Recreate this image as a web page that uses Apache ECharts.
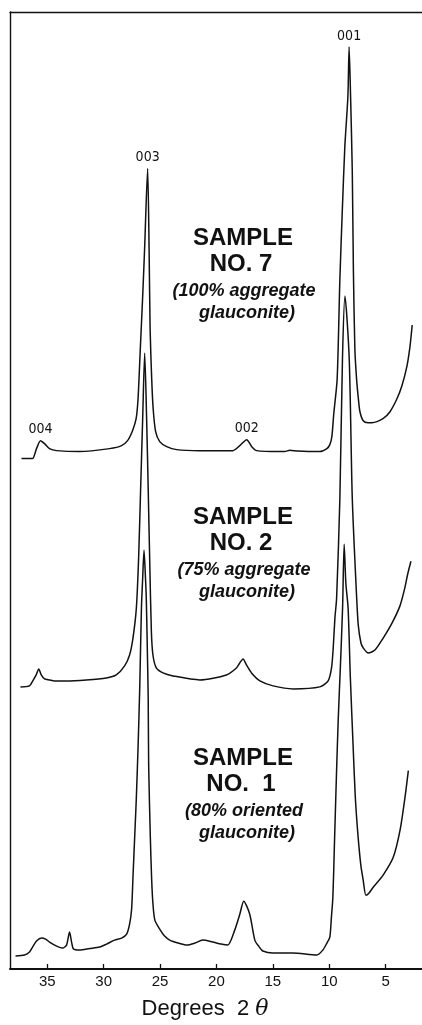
<!DOCTYPE html>
<html>
<head>
<meta charset="utf-8">
<title>Glauconite XRD</title>
<script src="https://cdn.jsdelivr.net/npm/echarts@6/dist/echarts.min.js"></script>
<style>
html,body{margin:0;padding:0;background:#fff;}
#xrd_chart{width:422px;height:1025px;}
</style>
</head>
<body>
<div id="xrd_chart"></div>
<script>
// [degrees 2theta, relative intensity] - traces are stacked
var sample7 = [
  [37.28,512],[36.57,512],[36.30,512],[35.95,522],[35.59,530],[35.24,527],[34.80,522],[34.17,520],
  [32.13,519],[29.47,522],[28.41,525],[27.88,530],[27.44,540],[27.12,552],[26.95,572],[26.75,622],
  [26.55,672],[26.37,722],[26.10,803],[25.97,722],[25.88,642],[25.74,592],[25.61,562],[25.39,539],
  [25.03,529],[24.41,524],[23.52,521],[21.48,520],[18.55,520],[17.93,525],[17.32,531],[16.87,524],
  [16.43,520],[14.38,519],[13.94,519],[13.50,520.5],[12.79,519.5],[10.83,519],[10.21,522],[9.95,526],
  [9.77,534],[9.60,557],[9.30,592],[9.06,692],[8.84,762],[8.62,825],[8.35,875],[8.24,925],
  [8.11,875],[7.96,800],[7.86,700],[7.73,622],[7.58,592],[7.42,572],[7.28,559],[6.99,550],
  [6.57,548],[6.22,548],[5.24,552],[4.62,559],[4.00,572],[3.56,585],[3.11,605],[2.85,624],[2.65,646]
];
var sample2 = [
  [37.37,283],[36.57,284],[36.28,289],[35.98,295],[35.75,301],[35.53,295],[35.24,291],[34.80,290],
  [34.35,289],[33.31,289],[31.54,290],[29.76,292],[28.88,295],[28.14,304],[27.70,315],[27.40,332],
  [27.10,362],[26.90,412],[26.72,482],[26.54,552],[26.36,618],[26.19,552],[26.05,482],[25.92,412],
  [25.77,339],[25.63,315],[25.33,302],[24.74,297],[23.85,294],[21.48,290],[19.12,295],[18.23,302],
  [17.94,307],[17.64,311],[17.34,305],[16.89,297],[16.15,289],[14.98,284],[13.20,281],[10.83,283],
  [10.10,289],[9.80,302],[9.65,322],[9.50,352],[9.35,372],[9.06,472],[8.83,612],[8.61,675],
  [8.23,612],[7.96,472],[7.57,372],[7.43,345],[7.19,327],[6.98,322],[6.54,317],[5.95,320],
  [5.22,332],[4.44,347],[3.74,364],[3.35,380],[3.05,396],[2.76,409]
];
var sample1 = [
  [37.81,13],[37.01,14],[36.57,17],[36.30,22],[35.95,28],[35.51,31],[35.15,30],[34.80,27],
  [34.17,23],[33.64,21],[33.29,24],[33.02,37],[32.84,27],[32.67,20],[32.13,19],[31.24,20.5],
  [30.36,22],[29.74,25],[29.03,29],[28.41,31],[27.96,35],[27.70,45],[27.52,60],[27.40,92],
  [27.25,132],[27.10,172],[26.95,222],[26.80,282],[26.65,362],[26.54,392],[26.42,420],[26.31,397],
  [26.22,372],[26.13,322],[26.05,272],[26.01,205],[25.86,132],[25.75,92],[25.64,67],[25.46,49],
  [25.03,40],[24.60,33],[24.14,29],[23.40,26],[22.64,24],[21.90,26],[21.22,29],[20.33,27],
  [19.60,25],[19.00,24],[18.38,39],[17.93,55],[17.58,68],[17.05,55],[16.60,29],[16.20,22],
  [15.89,18],[15.00,16],[13.23,16],[11.10,14],[10.57,19],[10.21,26],[9.95,32],[9.81,52],
  [9.68,72],[9.55,122],[9.37,192],[9.20,252],[9.02,302],[8.82,362],[8.68,426],[8.53,387],
  [8.33,362],[8.13,292],[7.88,222],[7.69,172],[7.44,132],[7.20,104],[6.99,89],[6.75,74],
  [6.49,76],[6.11,82],[5.24,94],[4.33,112],[3.73,139],[3.29,172],[2.99,199]
];
var tickValues = [35, 30, 25, 20, 15, 10, 5];
var peakNames = ['001', '002', '003', '004'];
var peakDegs = [8.24, 17.32, 26.10, 35.59];
var sampleNos = ['NO. 7', 'NO. 2', 'NO.  1'];
var sampleNotes = ['(100% aggregate', '(75% aggregate', '(80% oriented'];

var dom = document.getElementById('xrd_chart');
var myChart = echarts.init(dom);

// peak label sits on top of the sample 7 trace
function peakValue(deg) {
  var best = sample7[0];
  for (var i = 0; i < sample7.length; i++) {
    if (Math.abs(sample7[i][0] - deg) < Math.abs(best[0] - deg)) best = sample7[i];
  }
  return best[1];
}

// text blocks in the gap between the peaks
var blockY = [238, 517, 758];
var texts = [];
for (var k = 0; k < 3; k++) {
  var y0 = blockY[k];
  var lines = [
    {t: 'SAMPLE', x: 243, dy: 0, font: 'bold 24px "Liberation Sans", Arial, sans-serif'},
    {t: sampleNos[k], x: 241, dy: 26, font: 'bold 24px "Liberation Sans", Arial, sans-serif'},
    {t: sampleNotes[k], x: 244, dy: 53, font: 'italic bold 18px "Liberation Sans", Arial, sans-serif'},
    {t: 'glauconite)', x: 247, dy: 75, font: 'italic bold 18px "Liberation Sans", Arial, sans-serif'}
  ];
  for (var j = 0; j < lines.length; j++) {
    texts.push({
      type: 'text',
      style: {
        text: lines[j].t, x: lines[j].x, y: y0 + lines[j].dy,
        font: lines[j].font, fill: '#111',
        align: 'center', verticalAlign: 'middle',
        textAlign: 'center', textVerticalAlign: 'middle'
      }
    });
  }
}

var lineStyle = {color: '#111', width: 1.5};

var option = {
  animation: false,
  backgroundColor: '#fff',
  grid: {left: 10, right: 0, top: 12, bottom: 53},
  xAxis: [
    {
      type: 'value',
      min: 1.78, max: 38.3,
      inverse: true,
      name: 'Degrees  2 {th|θ}',
      nameLocation: 'middle',
      nameGap: 29,
      nameTextStyle: {
        color: '#111', fontSize: 22, fontFamily: '"Liberation Sans", Arial, sans-serif',
        padding: [0, 22, 0, 0],
        rich: {th: {fontSize: 22, fontStyle: 'italic', color: '#111', fontFamily: '"DejaVu Serif", serif'}}
      },
      axisLine: {show: true, lineStyle: {color: '#111', width: 2}},
      axisTick: {show: true, inside: true, length: 5, customValues: tickValues, lineStyle: {color: '#111', width: 1.3}},
      axisLabel: {
        customValues: tickValues, margin: 5,
        color: '#111', fontSize: 15, fontFamily: '"Liberation Sans", Arial, sans-serif'
      },
      splitLine: {show: false}
    },
    {
      type: 'value',
      position: 'top',
      min: 1.78, max: 38.3,
      inverse: true,
      axisLine: {show: true, lineStyle: {color: '#111', width: 1.3}},
      axisTick: {show: false},
      axisLabel: {show: false},
      splitLine: {show: false}
    }
  ],
  yAxis: {
    type: 'value',
    min: 0, max: 960,
    axisLine: {show: true, lineStyle: {color: '#111', width: 1.4}},
    axisTick: {show: false},
    axisLabel: {show: false},
    splitLine: {show: false}
  },
  series: [
    {
      name: 'Sample 7', type: 'line', data: sample7, showSymbol: false,
      smooth: 0.25, lineStyle: lineStyle,
      markPoint: {
        symbol: 'circle', symbolSize: 0,
        label: {
          show: true, position: 'top', distance: 4, formatter: '{b}',
          color: '#111', fontSize: 14, fontFamily: '"Liberation Sans Narrow", "DejaVu Sans Condensed", sans-serif'
        },
        data: peakNames.map(function (n, i) {
          return {name: n, coord: [peakDegs[i], peakValue(peakDegs[i])]};
        })
      }
    },
    {name: 'Sample 2', type: 'line', data: sample2, showSymbol: false, smooth: 0.25, lineStyle: lineStyle},
    {name: 'Sample 1', type: 'line', data: sample1, showSymbol: false, smooth: 0.25, lineStyle: lineStyle}
  ],
  graphic: texts
};
myChart.setOption(option, true);
</script>
</body>
</html>
